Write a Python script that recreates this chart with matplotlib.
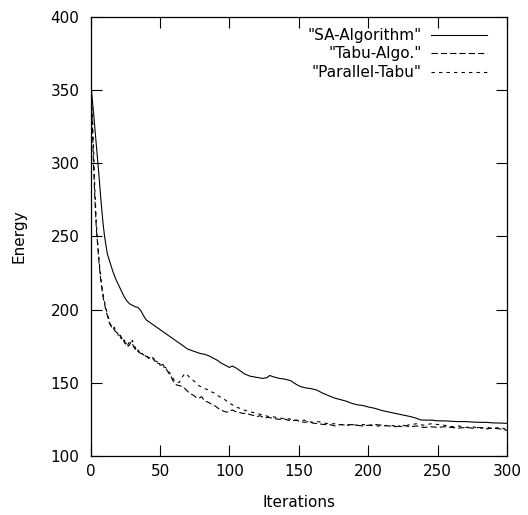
"""
Energy vs. iterations: SA, Tabu and Parallel-Tabu (gnuplot style).
"""
import matplotlib
matplotlib.use("Agg")
import matplotlib.pyplot as plt

# --- data ---
sa_x = [0, 1, 2, 3, 4, 5, 6, 7, 8, 9, 10, 11, 12, 14, 16, 18, 20, 22, 24, 26,
        28, 30, 32, 34, 36, 38, 40, 43, 46, 49, 52, 55, 58, 61, 64, 67, 70, 73, 76, 79,
        82, 85, 88, 91, 94, 97, 100, 102, 105, 108, 111, 115, 118, 121, 124, 127, 129, 132, 136, 140,
        144, 148, 151, 155, 159, 163, 167, 172, 176, 180, 184, 188, 192, 196, 200, 205, 210, 215, 220, 225,
        230, 234, 238, 242, 246, 250, 255, 260, 265, 270, 275, 280, 285, 290, 295, 300]
sa_y = [355, 345, 335, 324, 313, 302, 291, 279, 268, 258, 250, 244, 238, 232, 226, 221, 217, 213, 209, 206,
        204, 203, 202, 201.5, 199.5, 196, 193, 191, 189, 187, 185, 183, 181, 179, 177, 175, 173, 172, 171, 170,
        169.5, 168.5, 167, 165.5, 163.5, 162, 160.5, 161.5, 160, 158, 156, 154.5, 154, 153.5, 153, 153.5, 155, 154, 153, 152.5,
        151.5, 149, 147.5, 146.5, 146, 145, 143, 141, 139.5, 138.5, 137.5, 136, 135, 134.5, 133.5, 132.5, 131, 130, 129, 128,
        127, 126, 124.6, 124.5, 124.5, 124, 124, 123.7, 123.5, 123.5, 123.2, 123, 123, 122.6, 122.5, 122.3]

tabu_x = [0, 1, 2, 3, 4, 5, 6, 7, 8, 9, 10, 11, 12, 13, 14, 15, 16, 17, 18, 19,
          20, 21, 22, 23, 24, 25, 26, 27, 28, 29, 30, 31, 32, 33, 34, 35, 36, 38, 40, 42,
          44, 46, 48, 50, 52, 54, 56, 58, 60, 62, 64, 66, 68, 70, 72, 74, 76, 78, 80, 82,
          84, 86, 88, 90, 92, 94, 96, 98, 100, 102, 104, 106, 108, 110, 112, 114, 116, 118, 120, 122,
          124, 126, 128, 130, 133, 136, 139, 142, 145, 148, 151, 154, 157, 160, 164, 168, 172, 176, 180, 184,
          188, 192, 196, 200, 205, 210, 215, 220, 225, 230, 235, 240, 245, 250, 255, 260, 265, 270, 275, 280,
          285, 290, 295, 300]
tabu_y = [350, 330, 300, 276, 256, 244, 232, 222, 215, 208, 204, 199, 196, 192, 190, 188, 188.5, 186, 185, 184,
          183, 182.5, 180, 181, 178, 176.5, 177.5, 175, 176, 178, 177, 174.5, 173, 173.5, 171.5, 171, 170, 169.5, 168, 167,
          167.5, 165, 164.5, 162, 162.5, 160, 157, 154, 150, 148.5, 148, 147.5, 146, 144, 142.5, 141.5, 140, 139.5, 140.5, 137.5,
          137, 136, 135, 134, 132.5, 131.5, 130.5, 130, 130.5, 131.5, 130.5, 130, 129.5, 129, 129.5, 128.5, 128, 127.5, 127, 127.5,
          126.5, 126, 126.5, 126, 125.5, 125, 125.5, 124.5, 124, 124.5, 123.5, 123, 123.5, 122.5, 122, 121.5, 121.5, 120.5, 121.5, 121,
          121.5, 121, 120.5, 121, 121.5, 121, 120.5, 120, 121, 120, 120.5, 119.5, 120, 119.5, 120, 119.5, 119, 119.5, 119, 119.5,
          118.5, 119, 118.5, 117.5]
par_y = [354, 338, 312, 282, 260, 246, 234, 224, 216, 210, 205, 201, 197, 194, 190, 189, 187, 188, 185.5, 185,
         182, 183.5, 181, 179.5, 180, 177, 175.5, 176.5, 178, 177, 179, 176, 174.5, 172, 173, 170.5, 171.5, 169, 169.5, 166.5,
         168, 166, 163.5, 163, 161, 160.5, 158, 155, 152, 150, 150.5, 154, 156.5, 155, 153, 151.5, 150, 148, 147, 146,
         145.5, 144, 143.5, 142.5, 141, 140, 139, 137.5, 136, 135, 134, 133, 132.5, 131.5, 131, 130.5, 130, 129.5, 129, 128.5,
         128, 127.5, 127, 127, 126.5, 126, 125.5, 125.5, 125, 124.5, 124, 124.5, 123.5, 123, 123.5, 122.5, 122, 122, 121.5, 121,
         121.5, 121, 121.5, 121, 120.5, 120.5, 121, 120.5, 120, 121.5, 122, 121, 122, 121.5, 121, 120, 120.5, 119.5, 120, 119,
         119.5, 119, 119.5, 118]

series = [
    ('"SA-Algorithm"', sa_x, sa_y, "-"),
    ('"Tabu-Algo."', tabu_x, tabu_y, (0, (4.5, 2.2))),
    ('"Parallel-Tabu"', tabu_x, par_y, (0, (2.4, 3.0))),
]

plt.rcParams["font.family"] = ["DejaVu Sans"]
plt.rcParams["lines.scale_dashes"] = False

fig = plt.figure(figsize=(5.28, 5.15), dpi=100)
ax = fig.add_axes([0.1718, 0.1146, 0.7885, 0.8524])

for name, xs, ys, ls in series:
    ax.plot(xs, ys, color="black", lw=0.8, linestyle=ls)

ax.set_xlim(0, 300)
ax.set_ylim(100, 400)
ax.set_xticks(range(0, 301, 50))
ax.set_yticks(range(100, 401, 50))
ax.tick_params(direction="in", length=8, width=0.8, top=True, right=True,
               labelsize=11, pad=6, colors="black")
ax.tick_params(axis="y", pad=8)
for sp in ax.spines.values():
    sp.set_linewidth(0.9)

ax.set_xlabel("Iterations", fontsize=11, labelpad=11)
ax.set_ylabel("Energy", fontsize=11, labelpad=17)

# gnuplot-style key: right-aligned text, line sample to the right
key_y = [0.958, 0.917, 0.874]
for (name, xs, ys, ls), ky in zip(series, key_y):
    ax.text(0.795, ky, name, transform=ax.transAxes, ha="right", va="center", fontsize=11)
    ax.plot([0.817, 0.951], [ky, ky], transform=ax.transAxes, color="black", lw=0.8, linestyle=ls)

fig.savefig("out.png", dpi=100)
